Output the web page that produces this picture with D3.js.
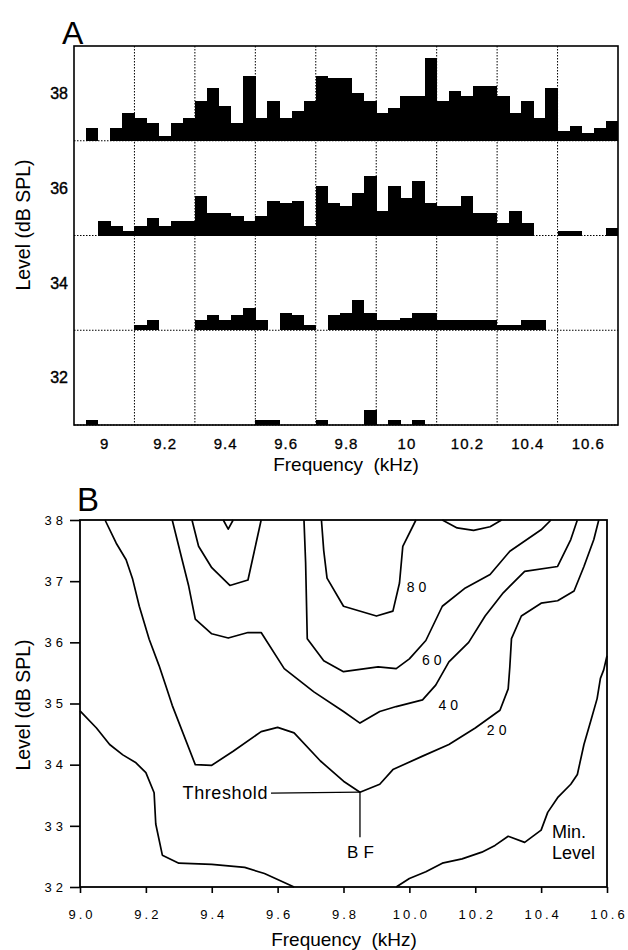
<!DOCTYPE html>
<html><head><meta charset="utf-8">
<script src="https://cdn.jsdelivr.net/npm/d3@7/dist/d3.min.js"></script>
<style>
body{margin:0;background:#fff}
svg{display:block}
text{font-family:"Liberation Sans",Arial,Helvetica,sans-serif;fill:#000}
</style>
</head><body>
<svg id="chart" width="628" height="950"></svg>
<script>
// ================= Panel A data =================
// start frequency (kHz) of each 0.04 kHz bin
const binStarts = [8.90,8.94,8.98,9.02,9.06,9.10,9.14,9.18,9.22,9.26,9.30,9.34,9.38,9.42,9.46,
  9.50,9.54,9.58,9.62,9.66,9.70,9.74,9.78,9.82,9.86,9.90,9.94,9.98,10.02,10.06,
  10.10,10.14,10.18,10.22,10.26,10.30,10.34,10.38,10.42,10.46,10.50,10.54,10.58,10.62,10.66];
const binWidth = 0.04;
const rowLevels = [38, 36, 34, 32];
// spike counts per bin at each level
const counts38 = [0,5,0,5,11,9,7,2,7,9,16,21,14,7,26,9,16,9,12,16,26,25,25,19,16,11,13,18,18,33,16,20,18,22,22,18,11,16,9,21,4,6,3,5,8];
const counts36 = [0,0,6,4,2,4,7,4,6,6,16,9,9,8,6,8,14,13,14,4,20,13,12,17,24,10,20,15,22,13,12,12,16,9,9,5,10,5,0,0,2,2,0,0,3];
const counts34 = [0,0,0,0,0,2,4,0,0,0,4,6,4,6,9,4,0,7,6,2,0,6,7,12,7,4,4,5,7,7,4,4,4,4,4,2,2,4,4,0,0,0,0,0,0];
const counts32 = [0,2,0,0,0,0,0,0,0,0,0,0,0,0,0,2,2,0,0,0,2,0,0,0,6,0,2,0,2,0,0,0,0,0,0,0,0,0,0,0,0,0,0,0,0];
const countsByRow = [counts38, counts36, counts34, counts32];
const countsPerRow = 38;           // count that fills one 2-dB row
const freqTicksA = [9, 9.2, 9.4, 9.6, 9.8, 10, 10.2, 10.4, 10.6];
const freqTickLabelsA = ["9","9.2","9.4","9.6","9.8","10","10.2","10.4","10.6"];
const gridFreqsA = [9.1, 9.3, 9.5, 9.7, 9.9, 10.1, 10.3, 10.5];
const levelTicksA = [38, 36, 34, 32];

// ================= Panel B data =================
const freqTicksB = [9.0, 9.2, 9.4, 9.6, 9.8, 10.0, 10.2, 10.4, 10.6];
const levelTicksB = [32, 33, 34, 35, 36, 37, 38];
const minLevelLeft = [[9.0,34.88],[9.05,34.60],[9.09,34.33],[9.13,34.16],[9.17,34.03],[9.20,33.87],[9.225,33.54],[9.23,33.03],[9.25,32.52],[9.30,32.39],[9.40,32.37],[9.50,32.32],[9.56,32.22],[9.65,32.0]];
const minLevelRight = [[9.96,32.0],[10.0,32.14],[10.05,32.25],[10.10,32.39],[10.16,32.46],[10.22,32.57],[10.26,32.68],[10.30,32.83],[10.35,32.73],[10.40,32.93],[10.42,33.22],[10.45,33.46],[10.49,33.68],[10.51,33.84],[10.53,34.33],[10.55,34.70],[10.57,35.08],[10.58,35.41],[10.59,35.55],[10.6,35.78]];
const contour20 = [[9.076,38],[9.11,37.62],[9.14,37.35],[9.16,37.03],[9.18,36.59],[9.21,36.05],[9.24,35.62],[9.26,35.3],[9.28,34.97],[9.35,34.0],[9.40,33.99],[9.465,34.22],[9.55,34.54],[9.60,34.61],[9.65,34.52],[9.73,34.06],[9.80,33.73],[9.85,33.55],[9.91,33.68],[9.95,33.92],[10.04,34.14],[10.12,34.33],[10.20,34.60],[10.275,34.89],[10.30,35.24],[10.305,35.6],[10.31,36.06],[10.34,36.43],[10.40,36.64],[10.45,36.68],[10.50,36.84],[10.53,37.24],[10.56,37.68],[10.575,38]];
const contour40 = [[9.28,38],[9.31,37.35],[9.33,36.92],[9.35,36.38],[9.40,36.14],[9.45,36.07],[9.51,36.16],[9.55,36.16],[9.62,35.57],[9.71,35.19],[9.80,34.87],[9.85,34.68],[9.91,34.87],[9.96,34.95],[10.04,35.06],[10.08,35.30],[10.12,35.68],[10.18,36.0],[10.23,36.43],[10.285,36.81],[10.35,37.16],[10.45,37.24],[10.49,37.68],[10.51,38]];
const contour60a = [[9.34,38],[9.36,37.57],[9.40,37.22],[9.455,36.93],[9.51,37.02],[9.55,38]];
const contour60b = [[9.68,38],[9.685,37.3],[9.69,36.06],[9.74,35.70],[9.80,35.52],[9.905,35.60],[9.96,35.57],[10.0,35.73],[10.05,36.03],[10.10,36.59],[10.17,36.89],[10.245,37.11],[10.305,37.49],[10.40,37.84],[10.43,38]];
const contour80a = [[9.733,38],[9.74,37.5],[9.75,37.05],[9.80,36.59],[9.90,36.43],[9.95,36.51],[9.97,36.97],[9.98,37.57],[10.02,38]];
const contour80b = [[10.10,38],[10.145,37.87],[10.195,37.83],[10.245,37.89],[10.28,38]];
const contour100 = [[9.435,38],[9.45,37.85],[9.465,38]];
const contours = [minLevelLeft, minLevelRight, contour20, contour40, contour60a, contour60b, contour80a, contour80b, contour100];
const contourLabels = [{t:"80", f:10.022, L:36.91},{t:"60", f:10.068, L:35.72},{t:"40", f:10.118, L:34.97},{t:"20", f:10.265, L:34.57}];
const bestFreq = 9.85, thresholdLevel = 33.55;

// ================= Drawing =================
const svg = d3.select("#chart");

// ---------- Panel A ----------
const xA = d3.scaleLinear().domain([8.90, 10.70]).range([74, 618]);
const yA = d3.scaleLinear().domain([31, 39]).range([425, 46]);
const gA = svg.append("g");

// dotted vertical grid
gA.selectAll("line.grid").data(gridFreqsA).join("line")
  .attr("x1", d => xA(d)).attr("x2", d => xA(d))
  .attr("y1", yA(39)).attr("y2", yA(31))
  .attr("stroke", "#000").attr("stroke-width", 1).attr("stroke-dasharray", "1.5,1.5");

// dotted baselines of each row
gA.selectAll("line.base").data(rowLevels).join("line")
  .attr("x1", xA(8.90)).attr("x2", xA(10.70))
  .attr("y1", d => yA(d - 1)).attr("y2", d => yA(d - 1))
  .attr("stroke", "#000").attr("stroke-width", 1).attr("stroke-dasharray", "1.5,1.5");

// bars
rowLevels.forEach((L, ri) => {
  const hScale = d3.scaleLinear().domain([0, countsPerRow]).range([yA(L - 1), yA(L + 1)]);
  gA.append("g").selectAll("rect").data(binStarts.map((b, i) => ({b, c: countsByRow[ri][i]})).filter(d => d.c > 0))
    .join("rect")
    .attr("x", d => xA(d.b)).attr("width", d => xA(d.b + binWidth) - xA(d.b) + 0.3)
    .attr("y", d => hScale(d.c)).attr("height", d => hScale(0) - hScale(d.c))
    .attr("fill", "#000").attr("shape-rendering", "crispEdges");
});

// frame
gA.append("rect").attr("x", xA(8.90)).attr("y", yA(39))
  .attr("width", xA(10.70) - xA(8.90)).attr("height", yA(31) - yA(39))
  .attr("fill", "none").attr("stroke", "#000").attr("stroke-width", 1.6);

// x axis A
const axA = d3.axisBottom(xA).tickValues(freqTicksA).tickSize(0).tickPadding(13)
  .tickFormat((d, i) => freqTickLabelsA[i]);
gA.append("g").attr("transform", `translate(0,${yA(31)})`).call(axA)
  .call(g => g.select(".domain").remove())
  .selectAll("text").attr("font-size", 15).attr("font-family", "Liberation Sans, Arial, sans-serif")
  .attr("letter-spacing", "1px").attr("stroke", "#000").attr("stroke-width", 0.3);

// y axis A
const ayA = d3.axisLeft(yA).tickValues(levelTicksA).tickSize(0).tickPadding(6);
gA.append("g").attr("transform", `translate(${xA(8.90)},0)`).call(ayA)
  .call(g => g.select(".domain").remove())
  .selectAll("text").attr("font-size", 16).attr("font-family", "Liberation Sans, Arial, sans-serif")
  .attr("stroke", "#000").attr("stroke-width", 0.4);

gA.append("text").attr("x", 62).attr("y", 44).attr("font-size", 32).text("A");
gA.append("text").attr("transform", `translate(30,225) rotate(-90)`).attr("text-anchor", "middle")
  .attr("font-size", 19.5).text("Level (dB SPL)");
gA.append("text").attr("x", 346).attr("y", 471).attr("text-anchor", "middle")
  .attr("font-size", 19).attr("xml:space", "preserve").text("Frequency  (kHz)");

// ---------- Panel B ----------
const xB = d3.scaleLinear().domain([9.0, 10.6]).range([80, 607]);
const yB = d3.scaleLinear().domain([32, 38]).range([887, 520]);
const gB = svg.append("g");

const line = d3.line().x(d => xB(d[0])).y(d => yB(d[1]));
gB.selectAll("path.contour").data(contours).join("path")
  .attr("d", line).attr("fill", "none").attr("stroke", "#000").attr("stroke-width", 1.7)
  .attr("stroke-linejoin", "round");

// frame
gB.append("rect").attr("x", xB(9.0)).attr("y", yB(38))
  .attr("width", xB(10.6) - xB(9.0)).attr("height", yB(32) - yB(38))
  .attr("fill", "none").attr("stroke", "#000").attr("stroke-width", 1.8);

const axB = d3.axisBottom(xB).tickValues(freqTicksB).tickSize(6).tickPadding(17).tickFormat(d3.format(".1f"));
gB.append("g").attr("transform", `translate(0,${yB(32)})`).call(axB)
  .call(g => g.select(".domain").remove())
  .call(g => g.selectAll("line").attr("stroke-width", 1.6))
  .selectAll("text").attr("font-size", 13).attr("letter-spacing", "3px").attr("dx", "1.5px")
  .attr("font-family", "Liberation Sans, Arial, sans-serif");

const ayB = d3.axisLeft(yB).tickValues(levelTicksB).tickSize(10).tickPadding(3).tickFormat(d3.format("d"));
gB.append("g").attr("transform", `translate(${xB(9.0)},0)`).call(ayB)
  .call(g => g.select(".domain").remove())
  .call(g => g.selectAll("line").attr("stroke-width", 1.6))
  .selectAll("text").attr("font-size", 13).attr("letter-spacing", "4px")
  .attr("font-family", "Liberation Sans, Arial, sans-serif");

// contour labels
gB.selectAll("text.clab").data(contourLabels).join("text")
  .attr("x", d => xB(d.f)).attr("y", d => yB(d.L)).attr("dy", "0.36em")
  .attr("text-anchor", "middle").attr("font-size", 14).attr("letter-spacing", "4px").attr("dx", "2px")
  .text(d => d.t);

// threshold / BF annotation
const bx = xB(bestFreq), by = yB(thresholdLevel);
gB.append("line").attr("x1", 271).attr("x2", bx).attr("y1", by + 1).attr("y2", by)
  .attr("stroke", "#000").attr("stroke-width", 1.3);
gB.append("line").attr("x1", bx).attr("x2", bx).attr("y1", by).attr("y2", by + 45)
  .attr("stroke", "#000").attr("stroke-width", 1.3);
gB.append("text").attr("x", 268).attr("y", by + 7).attr("text-anchor", "end")
  .attr("font-size", 18).attr("letter-spacing", "0.6px").text("Threshold");
gB.append("text").attr("x", bx + 3).attr("y", by + 66).attr("text-anchor", "middle")
  .attr("font-size", 17).attr("letter-spacing", "5px").text("BF");
gB.append("text").attr("x", 552).attr("y", 838).attr("font-size", 18).text("Min.");
gB.append("text").attr("x", 552).attr("y", 859).attr("font-size", 18).text("Level");

gB.append("text").attr("x", 77).attr("y", 511).attr("font-size", 33).text("B");
gB.append("text").attr("transform", `translate(30,705) rotate(-90)`).attr("text-anchor", "middle")
  .attr("font-size", 19.5).text("Level (dB SPL)");
gB.append("text").attr("x", 344).attr("y", 946).attr("text-anchor", "middle")
  .attr("font-size", 19).attr("xml:space", "preserve").text("Frequency  (kHz)");
</script>
</body></html>
